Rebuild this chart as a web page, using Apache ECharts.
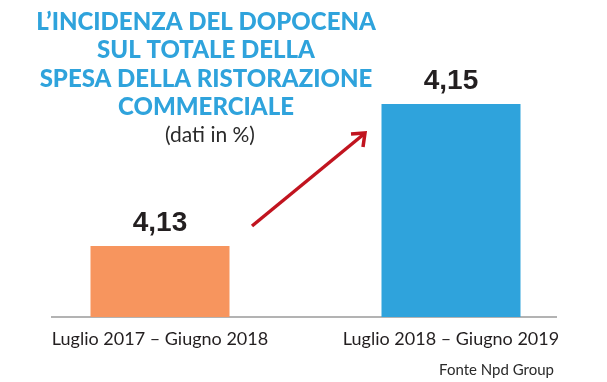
<!DOCTYPE html>
<html>
<head>
<meta charset="utf-8">
<script src="https://cdn.jsdelivr.net/npm/echarts@6/dist/echarts.min.js"></script>
<style>html,body{margin:0;padding:0;background:#fff}#c{width:607px;height:382px}</style>
</head>
<body>
<div id="c"></div>
<script>
var categories = ['Luglio 2017 – Giugno 2018', 'Luglio 2018 – Giugno 2019'];
var values = [4.13, 4.15];
var barColors = ['#f7955e', '#2fa3dc'];
var titleLines = ['L\u2019INCIDENZA DEL DOPOCENA', 'SUL TOTALE DELLA', 'SPESA DELLA RISTORAZIONE', 'COMMERCIALE'];
var subtitle = '(dati in %)';
var source = 'Fonte Npd Group';

var chart = echarts.init(document.getElementById('c'));
var graphics = [];
titleLines.forEach(function (t, i) {
  graphics.push({
    type: 'text',
    style: {
      x: 206, y: 22 + i * 28.5, text: t, align: 'center', verticalAlign: 'middle',
      fill: '#2fa3dc', font: '900 24px Lato'
    }
  });
});
graphics.push({ type: 'text', style: { x: 210, y: 135, text: subtitle, align: 'center', verticalAlign: 'middle', fill: '#2a2a2a', font: '21px Lato' } });
graphics.push({ type: 'text', style: { x: 554, y: 370, text: source, align: 'right', verticalAlign: 'middle', fill: '#2a2a2a', font: '15px Lato' } });
graphics.push({ type: 'line', shape: { x1: 51, y1: 317, x2: 557, y2: 317 }, style: { stroke: '#9a9a9a', lineWidth: 1.5 } });
graphics.push({ type: 'line', shape: { x1: 252, y1: 226, x2: 364, y2: 134 }, style: { stroke: '#c1141f', lineWidth: 3.5 } });
graphics.push({ type: 'polyline', shape: { points: [[351, 134], [365, 133], [363, 147]] }, style: { stroke: '#c1141f', lineWidth: 3.5, fill: null, lineJoin: 'miter' } });

chart.setOption({
  animation: false,
  grid: { left: 14.5, right: 10.5, top: 104, bottom: 65 },
  xAxis: {
    type: 'category', data: categories,
    axisLine: { show: false }, axisTick: { show: false },
    axisLabel: { color: '#231f20', fontSize: 18, fontFamily: 'Lato', margin: 13 }
  },
  yAxis: { type: 'value', min: 4.12, max: 4.15, show: false, splitLine: { show: false } },
  series: [{
    type: 'bar', barWidth: 139,
    data: values.map(function (v, i) { return { value: v, itemStyle: { color: barColors[i] } }; }),
    label: {
      show: true, position: 'top', distance: 9, color: '#231f20',
      fontSize: 28, fontWeight: 'bold', fontFamily: 'Liberation Sans',
      formatter: function (p) { return p.value.toFixed(2).replace('.', ','); }
    }
  }],
  graphic: graphics
});
</script>
</body>
</html>
